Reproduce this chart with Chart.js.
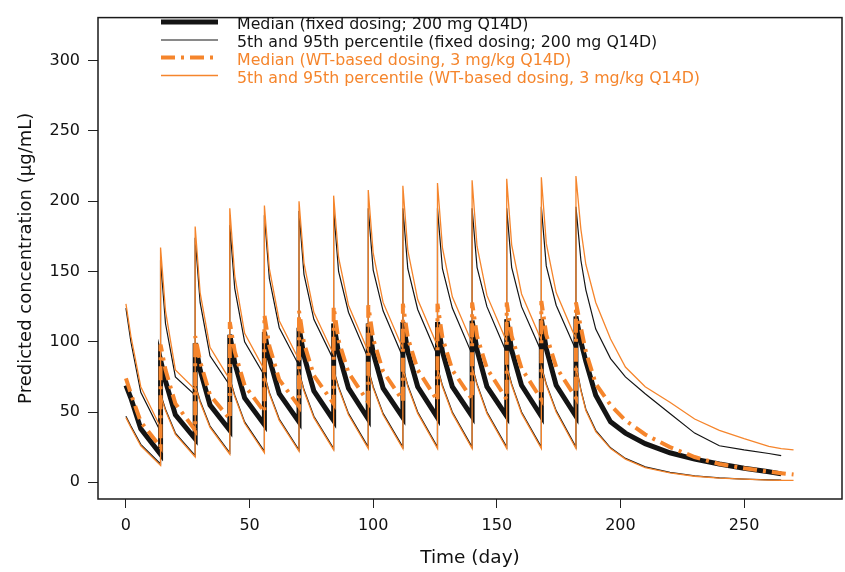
<!DOCTYPE html>
<html>
<head>
<meta charset="utf-8">
<script src="https://cdn.jsdelivr.net/npm/chart.js@4.4.0/dist/chart.umd.min.js"></script>
<style>
  body { margin: 0; background: #fff; }
  #wrap { width: 845px; height: 572px; }
</style>
</head>
<body>
<div id="wrap"><canvas id="chart"></canvas></div>
<script>
// sampling days: each 14-day dose interval (peak, +2, +6, trough), then washout after the last dose
const days = [
  0, 2, 6, 14,   14, 16, 20, 28,   28, 30, 34, 42,   42, 44, 48, 56,
  56, 58, 62, 70,   70, 72, 76, 84,   84, 86, 90, 98,   98, 100, 104, 112,
  112, 114, 118, 126,   126, 128, 132, 140,   140, 142, 146, 154,
  154, 156, 160, 168,   168, 170, 174, 182,
  182, 184, 186, 190, 196, 202, 210, 220, 230, 240, 250, 260, 265, 270
];

// fixed dosing, 200 mg Q14D
const medianFixed = [
  69, 60, 38, 20,   87, 72, 48, 31,   99, 80, 55, 37,   105, 85, 60, 41,
  107, 88, 63, 43,   110, 90, 65, 44,   113, 92, 67, 45,   113, 92, 67, 46,
  114, 93, 68, 46,   114, 93, 68, 47,   115, 94, 68, 47,
  116, 94, 69, 47,   116, 95, 69, 47,
  118, 100, 86, 62, 43, 35, 27.5, 21, 16.5, 13, 10, 7.5, 6, null
];
const p95Fixed = [
  124, 100, 64, 36,   158, 113, 75, 62,   174, 128, 90, 69,   183, 138, 100, 76,
  190, 145, 110, 83,   193, 148, 116, 87,   194, 150, 121, 88,   195, 151, 122, 89,
  195, 152, 123, 90,   195, 152, 124, 91,   195, 153, 125, 92,
  195, 153, 125, 93,   196, 154, 126, 94,
  196, 158, 137, 109, 88, 75, 63, 49, 35, 26, 23, 20.5, 19, null
];
const p5Fixed = [
  47, 40, 27, 13,   63, 52, 35, 19,   70, 58, 40, 21,   74, 62, 43, 22,
  77, 64, 45, 23,   79, 66, 47, 24,   80, 68, 49, 25,   81, 68, 49, 25,
  82, 69, 50, 25,   82, 69, 50, 25,   83, 70, 50, 25,
  83, 70, 50, 25,   83, 70, 51, 25,
  84, 66, 52, 37, 24.5, 17, 11, 7, 4.5, 3.2, 2.3, 1.7, 1.5, null
];

// WT-based dosing, 3 mg/kg Q14D
const medianWT = [
  74, 63, 43, 25,   98, 80, 56, 37,   104, 86, 62, 45,   114, 93, 69, 50,
  119, 97, 73, 54,   122, 99, 76, 56,   125, 101, 78, 57,   126, 102, 79, 58,
  127, 103, 80, 58,   127, 103, 80, 59,   128, 104, 81, 59,
  128, 104, 81, 59,   129, 105, 82, 60,
  128, 110, 93, 70, 55, 44, 34, 25, 18, 13, 10, 7.5, 6.5, 5.5
];
const p95WT = [
  127, 104, 68, 39,   167, 122, 80, 66,   182, 135, 96, 73,   195, 147, 106, 80,
  197, 152, 115, 87,   200, 156, 121, 91,   204, 160, 126, 93,   208, 163, 128, 95,
  211, 165, 130, 97,   213, 167, 132, 99,   215, 168, 133, 100,
  216, 169, 134, 101,   217, 170, 135, 102,
  218, 180, 155, 128, 102, 82, 68, 57, 45, 37, 31, 25.5, 24, 23
];
const p5WT = [
  46, 39, 26, 12,   62, 51, 34, 18,   69, 57, 39, 20,   73, 61, 42, 21,
  76, 63, 44, 22,   78, 65, 46, 23,   79, 67, 48, 24,   80, 67, 48, 24,
  81, 68, 49, 24,   81, 68, 49, 24,   82, 69, 49, 24,
  82, 69, 49, 24,   82, 69, 50, 24,
  83, 65, 51, 36, 24, 16.5, 10.5, 6.7, 4.3, 3, 2.2, 1.6, 1.4, 1.3
];

const xTicks = [0, 50, 100, 150, 200, 250];
const yTicks = [0, 50, 100, 150, 200, 250, 300];

const legendLabels = [
  "Median (fixed dosing; 200 mg Q14D)",
  "5th and 95th percentile (fixed dosing; 200 mg Q14D)",
  "Median (WT-based dosing, 3 mg/kg Q14D)",
  "5th and 95th percentile (WT-based dosing, 3 mg/kg Q14D)",
];

const BLACK = "#141414";
const ORANGE = "#f5852c";
const FONT = "'DejaVu Sans', sans-serif";

function toPoints(values) {
  return days.map((d, i) => ({x: d, y: values[i]}));
}

function line(label, values, color, width, dash, order) {
  return {
    label: label,
    data: toPoints(values),
    borderColor: color,
    borderWidth: width,
    borderDash: dash,
    pointRadius: 0,
    tension: 0,
    fill: false,
    spanGaps: false,
    order: order,
  };
}

const datasets = [
  line(legendLabels[0], medianFixed, BLACK, 5, [], 2),
  line(legendLabels[1], p95Fixed, BLACK, 1.2, [], 2),
  line(legendLabels[1], p5Fixed, BLACK, 1.2, [], 2),
  line(legendLabels[2], medianWT, ORANGE, 4, [14, 6, 3, 6], 0),
  line(legendLabels[3], p95WT, ORANGE, 1.3, [], 1),
  line(legendLabels[3], p5WT, ORANGE, 1.3, [], 1),
];

// box round the plot area, like base R graphics
const framePlugin = {
  id: "frame",
  afterDraw(chart) {
    const {ctx, chartArea} = chart;
    ctx.save();
    ctx.strokeStyle = "#1a1a1a";
    ctx.lineWidth = 1.5;
    ctx.strokeRect(chartArea.left, chartArea.top,
      chartArea.right - chartArea.left, chartArea.bottom - chartArea.top);
    ctx.restore();
  },
};

// legend sits inside the plot, top left, text coloured like its line
const legendPlugin = {
  id: "insideLegend",
  afterDraw(chart) {
    const ctx = chart.ctx;
    const rows = [0, 1, 3, 4];
    const ys = [22, 40, 57.5, 75.5];
    ctx.save();
    ctx.font = "15.8px " + FONT;
    ctx.textBaseline = "middle";
    rows.forEach((idx, i) => {
      const ds = chart.data.datasets[idx];
      const y = ys[i];
      ctx.strokeStyle = ds.borderColor;
      ctx.lineWidth = ds.borderWidth;
      ctx.setLineDash(ds.borderDash);
      ctx.beginPath();
      ctx.moveTo(161, y);
      ctx.lineTo(218, y);
      ctx.stroke();
      ctx.setLineDash([]);
      ctx.fillStyle = ds.borderColor;
      ctx.fillText(legendLabels[i], 237, y + 3);
    });
    ctx.restore();
  },
};

new Chart(document.getElementById("chart"), {
  type: "line",
  data: {datasets: datasets},
  plugins: [framePlugin, legendPlugin],
  options: {
    responsive: true,
    maintainAspectRatio: false,
    animation: false,
    layout: {padding: {top: 8, right: 3, left: 0, bottom: 0}},
    plugins: {
      legend: {display: false},
      tooltip: {enabled: false},
    },
    scales: {
      x: {
        type: "linear",
        min: -11.3,
        max: 289.6,
        afterFit: (scale) => { scale.height = 73; },
        afterBuildTicks: (scale) => { scale.ticks = xTicks.map((v) => ({value: v})); },
        grid: {drawOnChartArea: false, drawTicks: true, tickLength: 9, color: "#222", tickWidth: 1},
        border: {display: false},
        ticks: {color: "#111", font: {family: FONT, size: 16}, padding: 8, maxRotation: 0},
        title: {
          display: true,
          text: "Time (day)",
          color: "#111",
          font: {family: FONT, size: 18.5},
          padding: {top: 0, bottom: 3},
        },
      },
      y: {
        type: "linear",
        min: -11.9,
        max: 330.7,
        afterFit: (scale) => { scale.width = 98; },
        afterBuildTicks: (scale) => { scale.ticks = yTicks.map((v) => ({value: v})); },
        grid: {drawOnChartArea: false, drawTicks: true, tickLength: 10, color: "#222", tickWidth: 1},
        border: {display: false},
        ticks: {color: "#111", font: {family: FONT, size: 16}, padding: 8},
        title: {
          display: true,
          text: "Predicted concentration (μg/mL)",
          color: "#111",
          font: {family: FONT, size: 18},
          padding: {top: 16, bottom: 0},
        },
      },
    },
  },
});
</script>
</body>
</html>
